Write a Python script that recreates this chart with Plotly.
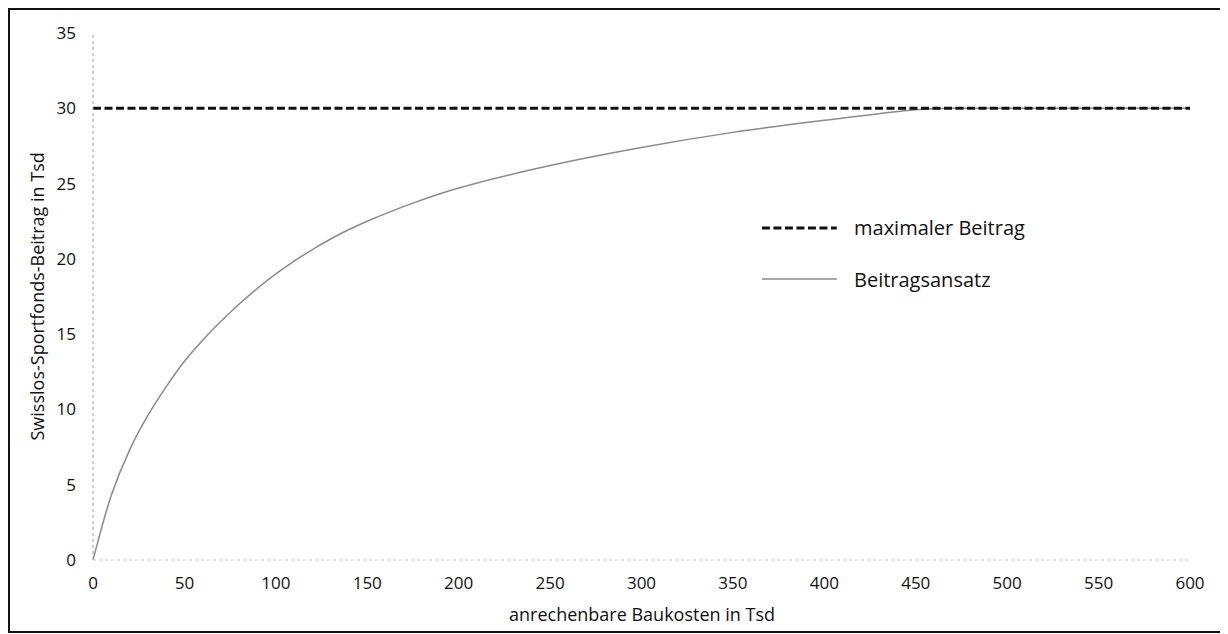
import plotly.graph_objects as go

# Data
baukosten = [0, 10, 20, 30, 40, 50, 60, 70, 80, 90, 100, 110, 120, 130, 140,
             150, 175, 200, 250, 300, 350, 400, 450, 470, 500, 550, 600]
beitragsansatz = [0, 4.3, 7.3, 9.6, 11.5, 13.2, 14.6, 15.85, 17.0, 18.05, 19.0,
                  19.85, 20.62, 21.32, 21.95, 22.5, 23.7, 24.7, 26.2, 27.4,
                  28.4, 29.2, 29.9, 30.0, 30.0, 30.0, 30.0]
max_x = [0, 600]
max_beitrag = [30, 30]

x_ticks = [0, 50, 100, 150, 200, 250, 300, 350, 400, 450, 500, 550, 600]
y_ticks = [0, 5, 10, 15, 20, 25, 30, 35]

FONT = "Open Sans"
TXT = "#111111"

fig = go.Figure()
fig.add_trace(go.Scatter(x=baukosten, y=beitragsansatz, mode="lines",
                         name="Beitragsansatz",
                         line=dict(color="#8a8a8a", width=1.5, shape="spline",
                                   smoothing=0.8),
                         showlegend=False))
fig.add_trace(go.Scatter(x=max_x, y=max_beitrag, mode="lines",
                         name="maximaler Beitrag",
                         line=dict(color="#111111", width=3, dash="8px,3.5px"),
                         showlegend=False))

fig.update_layout(
    width=1220, height=626,
    margin=dict(l=85, r=38, t=25, b=74),
    paper_bgcolor="white", plot_bgcolor="white",
    font=dict(family=FONT, size=17, color=TXT),
    xaxis=dict(range=[0, 600], tickvals=x_ticks, showgrid=False, zeroline=False,
               showline=False, ticks="", ticklabelstandoff=11,
               tickfont=dict(size=17, color=TXT)),
    yaxis=dict(range=[0, 35], tickvals=y_ticks, showgrid=False, zeroline=False,
               showline=False, ticks="", ticklabelstandoff=16,
               tickfont=dict(size=17, color=TXT)),
)

shapes = [
    # axis lines (dotted, faint)
    dict(type="line", xref="paper", yref="paper", x0=0, x1=0, y0=0, y1=1,
         line=dict(color="#9a9a9a", width=1, dash="dot")),
    dict(type="line", xref="paper", yref="paper", x0=0, x1=1, y0=0, y1=0,
         line=dict(color="#c8c8c8", width=1, dash="dot")),
    # outer frame
    dict(type="rect", xref="paper", yref="paper", x0=-0.0766, x1=1.0301,
         y0=-0.1366, y1=1.0455, line=dict(color="#111111", width=2)),
    # legend samples
    dict(type="line", xref="paper", yref="paper", x0=0.6098, x1=0.678,
         y0=0.63, y1=0.63, line=dict(color="#111111", width=3, dash="8px,3.5px")),
    dict(type="line", xref="paper", yref="paper", x0=0.6098, x1=0.678,
         y0=0.533, y1=0.533, line=dict(color="#8a8a8a", width=1.5)),
]
fig.update_layout(shapes=shapes)

annotations = [
    dict(text="maximaler Beitrag", xref="paper", yref="paper", x=0.692, y=0.63,
         xanchor="left", yanchor="middle", showarrow=False,
         font=dict(size=20, color=TXT, family=FONT)),
    dict(text="Beitragsansatz", xref="paper", yref="paper", x=0.692, y=0.533,
         xanchor="left", yanchor="middle", showarrow=False,
         font=dict(size=20, color=TXT, family=FONT)),
    dict(text="anrechenbare Baukosten in Tsd", xref="paper", yref="paper",
         x=0.5, y=0, yshift=-54, xanchor="center", yanchor="middle",
         showarrow=False, font=dict(size=18, color=TXT, family=FONT)),
    dict(text="Swisslos-Sportfonds-Beitrag in Tsd", xref="paper", yref="paper",
         x=0, xshift=-57, y=0.5, xanchor="center", yanchor="middle",
         textangle=-90, showarrow=False, font=dict(size=18, color=TXT, family=FONT)),
]
fig.update_layout(annotations=annotations)

fig.write_html("out.html")
